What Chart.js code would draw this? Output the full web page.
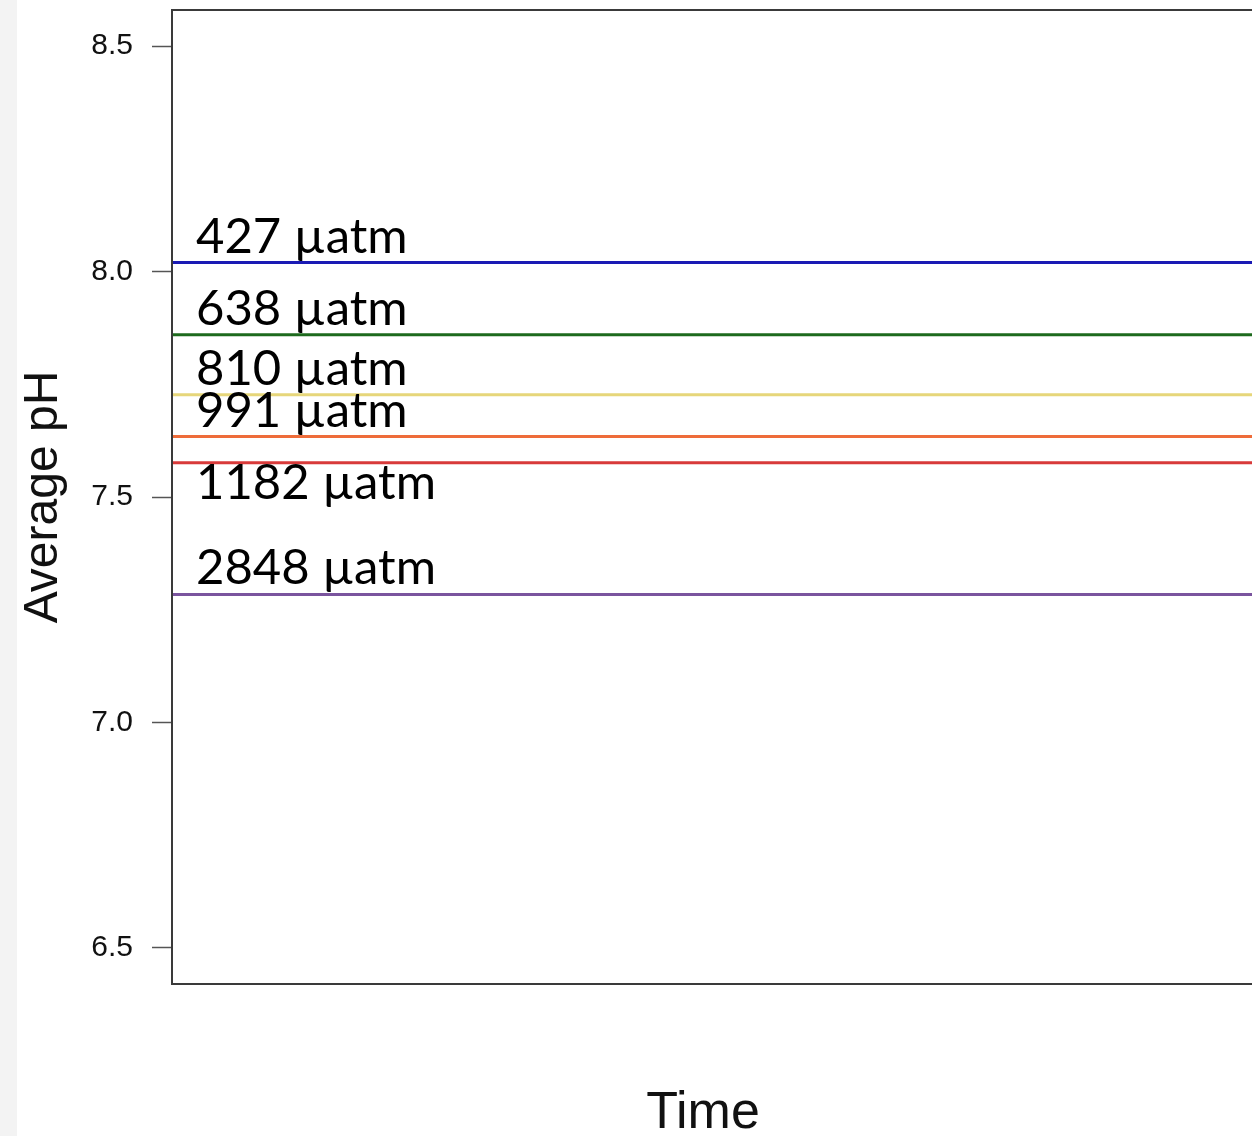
<!DOCTYPE html>
<html>
<head>
<meta charset="utf-8">
<script src="https://cdn.jsdelivr.net/npm/chart.js@4.4.1/dist/chart.umd.min.js"></script>
<style>
  html, body { margin: 0; padding: 0; background: #fff; overflow: hidden; }
  #faixa { position: absolute; left: 0; top: 0; width: 17px; height: 1136px; background: #f3f3f3; z-index: 0; }
  #grafico { position: absolute; left: 0; top: 0; z-index: 1; }
</style>
</head>
<body>
<div id="faixa"></div>
<canvas id="grafico" width="1262" height="1136"></canvas>
<script>
// Dados
const tempo = [0, 1];
const rotulosCO2 = ["427 µatm", "638 µatm", "810 µatm", "991 µatm", "1182 µatm", "2848 µatm"];
const phMedio = [8.02, 7.86, 7.727, 7.634, 7.576, 7.284];
const ticksY = [6.5, 7.0, 7.5, 8.0, 8.5];

const CORES = ["#1a1ab4", "#1d6a1d", "#e6d67a", "#ee6c3a", "#d83a3a", "#7a549e"];

// caixa do gráfico, rótulos das linhas e títulos dos eixos
const pluginDesenho = {
  id: "desenho",
  afterDatasetsDraw(chart) {
    const { ctx, chartArea, scales } = chart;
    ctx.save();
    ctx.font = "49px Lato";
    ctx.fillStyle = "#000";
    ctx.textAlign = "left";
    ctx.textBaseline = "alphabetic";
    phMedio.forEach((v, i) => {
      const y = scales.y.getPixelForValue(v);
      const abaixo = i === 4;
      ctx.fillText(rotulosCO2[i], chartArea.left + 24, abaixo ? y + 36 : y - 10);
    });
    ctx.restore();
  },
  afterDraw(chart) {
    const { ctx, chartArea } = chart;
    ctx.save();
    ctx.strokeStyle = "#3a3a3a";
    ctx.lineWidth = 2;
    ctx.strokeRect(chartArea.left, chartArea.top, chartArea.right - chartArea.left + 4, chartArea.bottom - chartArea.top);

    ctx.fillStyle = "#111";
    ctx.font = "52px 'Liberation Sans'";
    ctx.textAlign = "center";
    ctx.textBaseline = "alphabetic";
    ctx.fillText("Time", 703, 1128);

    ctx.translate(57, 497);
    ctx.rotate(-Math.PI / 2);
    ctx.font = "48px 'Liberation Sans'";
    ctx.fillText("Average pH", 0, 0);
    ctx.restore();
  },
};

const ctx = document.getElementById("grafico").getContext("2d");
new Chart(ctx, {
  type: "line",
  data: {
    datasets: phMedio.map((v, i) => ({
      label: rotulosCO2[i],
      data: tempo.map((t) => ({ x: t, y: v })),
      borderColor: CORES[i],
      borderWidth: 3,
      pointRadius: 0,
      fill: false,
    })),
  },
  options: {
    responsive: false,
    animation: false,
    devicePixelRatio: 1,
    layout: { padding: { top: 10, bottom: 152, right: 0, left: 0 } },
    plugins: {
      legend: { display: false },
      tooltip: { enabled: false },
    },
    scales: {
      x: {
        type: "linear",
        min: 0,
        max: 1,
        display: false,
      },
      y: {
        min: 6.42,
        max: 8.58,
        afterFit: (s) => {
          s.width = 172;
          s.paddingTop = 0;
          s.paddingBottom = 0;
        },
        afterBuildTicks: (s) => { s.ticks = ticksY.map((v) => ({ value: v })); },
        border: { display: false },
        grid: {
          drawOnChartArea: false,
          drawTicks: true,
          tickLength: 20,
          tickColor: "#555",
          tickWidth: 1.5,
        },
        ticks: {
          padding: 19,
          color: "#111",
          font: { family: "Liberation Sans", size: 30 },
          callback: (v) => Number(v).toFixed(1),
        },
      },
    },
  },
  plugins: [pluginDesenho],
});
</script>
</body>
</html>
